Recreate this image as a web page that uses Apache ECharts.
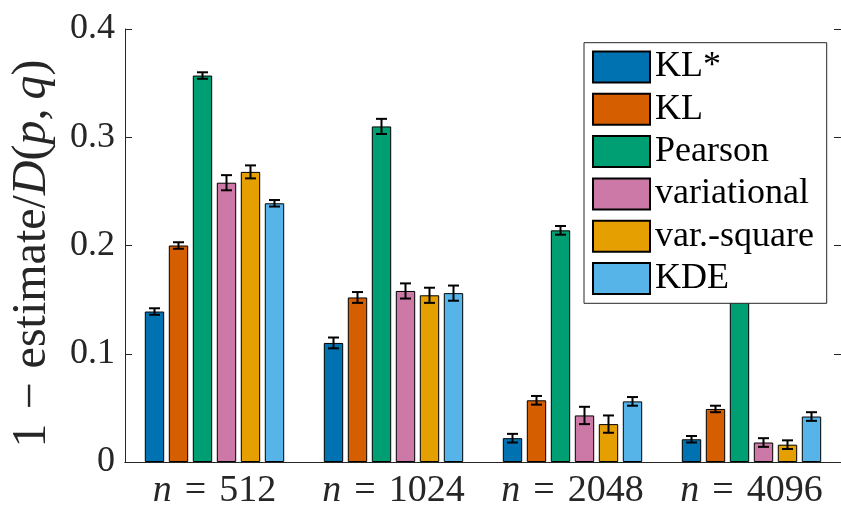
<!DOCTYPE html>
<html>
<head>
<meta charset="utf-8">
<script src="https://cdn.jsdelivr.net/npm/echarts@6/dist/echarts.min.js"></script>
<style>
  html, body { margin: 0; padding: 0; background: #fff; }
  #chart { width: 841px; height: 510px; }
</style>
</head>
<body>
<div id="chart"></div>
<script>
// Sample sizes (x categories)
const sampleSizes = ['512', '1024', '2048', '4096'];

// Estimator names (legend order)
const methods = ['KL*', 'KL', 'Pearson', 'variational', 'var.-square', 'KDE'];

// Mean relative error per estimator, one entry per sample size
const klStar      = [0.139, 0.110, 0.022, 0.021];
const kl          = [0.200, 0.152, 0.057, 0.049];
const pearson     = [0.357, 0.310, 0.214, 0.170];
const variational = [0.258, 0.158, 0.043, 0.018];
const varSquare   = [0.268, 0.154, 0.035, 0.016];
const kde         = [0.239, 0.156, 0.056, 0.042];

// Half-width of the error bars
const klStarErr      = [0.003, 0.005, 0.004, 0.003];
const klErr          = [0.003, 0.005, 0.004, 0.003];
const pearsonErr     = [0.003, 0.007, 0.004, 0.004];
const variationalErr = [0.007, 0.007, 0.008, 0.004];
const varSquareErr   = [0.006, 0.007, 0.008, 0.004];
const kdeErr         = [0.003, 0.007, 0.004, 0.004];

// Y-axis ticks
const yTicks = [0, 0.1, 0.2, 0.3, 0.4];

const means = [klStar, kl, pearson, variational, varSquare, kde];
const errs  = [klStarErr, klErr, pearsonErr, variationalErr, varSquareErr, kdeErr];
const colors = ['#0072B2', '#D55E00', '#009E73', '#CC79A7', '#E69F00', '#56B4E9'];

const FONT = 'Liberation Serif, DejaVu Serif, serif';
const AXIS_COLOR = '#262626';
const BAR_W = 19.4;
const BAR_GAP = 4.6;

const chart = echarts.init(document.getElementById('chart'), null, { renderer: 'canvas' });

const barSeries = methods.map((name, k) => ({
  name: name,
  type: 'bar',
  data: means[k],
  barWidth: BAR_W,
  barGap: (BAR_GAP / BAR_W * 100).toFixed(2) + '%',
  itemStyle: { color: colors[k], borderColor: '#000', borderWidth: 1 },
  z: 2,
  emphasis: { disabled: true }
}));

// Error bars: one custom series, positioned over each bar of the group
const errData = [];
methods.forEach((name, k) => {
  sampleSizes.forEach((s, i) => {
    errData.push([i, means[k][i], errs[k][i], k]);
  });
});

const errSeries = {
  type: 'custom',
  data: errData,
  z: 3,
  silent: true,
  encode: { x: 0, y: 1 },
  renderItem: function (params, api) {
    const i = api.value(0);
    const v = api.value(1);
    const e = api.value(2);
    const k = api.value(3);
    const n = methods.length;
    const off = (k - (n - 1) / 2) * (BAR_W + BAR_GAP);
    const top = api.coord([i, v + e]);
    const bot = api.coord([i, v - e]);
    const x = top[0] + off;
    const cap = 5.5;
    const style = { stroke: '#000', lineWidth: 2 };
    return {
      type: 'group',
      children: [
        { type: 'line', shape: { x1: x, y1: top[1], x2: x, y2: bot[1] }, style: style },
        { type: 'line', shape: { x1: x - cap, y1: top[1], x2: x + cap, y2: top[1] }, style: style },
        { type: 'line', shape: { x1: x - cap, y1: bot[1], x2: x + cap, y2: bot[1] }, style: style }
      ]
    };
  }
};

const option = {
  animation: false,
  backgroundColor: '#fff',
  grid: { left: 123, top: 29, width: 720, bottom: 48, containLabel: false },
  legend: {
    data: methods,
    orient: 'vertical',
    left: 592,
    top: 49,
    padding: 0,
    icon: 'rect',
    itemWidth: 57,
    itemHeight: 31,
    itemGap: 6.3,
    z: 11,
    selectedMode: false,
    textStyle: { fontFamily: FONT, fontSize: 36, color: '#000', padding: [0, 0, 0, 0] }
  },
  graphic: [{
    type: 'rect',
    z: 10,
    shape: { x: 584, y: 42.7, width: 242.7, height: 260.6 },
    style: { fill: '#fff', stroke: AXIS_COLOR, lineWidth: 1 }
  }],
  xAxis: [{
    type: 'category',
    data: sampleSizes,
    position: 'bottom',
    axisLine: { lineStyle: { color: AXIS_COLOR, width: 1 } },
    axisTick: { inside: true, alignWithLabel: true, length: 7, lineStyle: { color: AXIS_COLOR } },
    axisLabel: {
      interval: 0,
      margin: 10,
      color: AXIS_COLOR,
      fontFamily: FONT,
      fontSize: 38,
      formatter: v => '{i|n}{eq|=}' + v,
      rich: {
        i: { fontFamily: FONT, fontSize: 38, fontStyle: 'italic', color: AXIS_COLOR },
        eq: { fontFamily: FONT, fontSize: 38, color: AXIS_COLOR, padding: [0, 13, 0, 13] }
      }
    },
    splitLine: { show: false }
  }, {
    type: 'category',
    data: sampleSizes,
    position: 'top',
    axisLine: { lineStyle: { color: AXIS_COLOR, width: 1 } },
    axisTick: { inside: true, alignWithLabel: true, length: 7, lineStyle: { color: AXIS_COLOR } },
    axisLabel: { show: false },
    splitLine: { show: false }
  }],
  yAxis: [{
    type: 'value',
    min: yTicks[0],
    max: yTicks[yTicks.length - 1],
    interval: 0.1,
    position: 'left',
    axisLine: { show: true, lineStyle: { color: AXIS_COLOR, width: 1 } },
    axisTick: { show: true, inside: true, length: 7, lineStyle: { color: AXIS_COLOR } },
    axisLabel: { margin: 10, color: AXIS_COLOR, fontFamily: FONT, fontSize: 36 },
    splitLine: { show: false },
    name: '1{op|−}estimate/{i|D}({i|p},{sp|}{i|q}){tail|}',
    nameLocation: 'middle',
    nameRotate: 90,
    nameGap: 69,
    nameTextStyle: {
      fontFamily: FONT, fontSize: 48, color: AXIS_COLOR,
      rich: {
        i: { fontFamily: FONT, fontSize: 48, fontStyle: 'italic', color: AXIS_COLOR },
        op: { fontFamily: FONT, fontSize: 48, color: AXIS_COLOR, padding: [0, 14, 0, 14] },
        sp: { fontFamily: FONT, fontSize: 48, padding: [0, 9, 0, 0] },
        tail: { fontFamily: FONT, fontSize: 48, padding: [0, 16, 0, 0] }
      }
    }
  }, {
    type: 'value',
    min: yTicks[0],
    max: yTicks[yTicks.length - 1],
    interval: 0.1,
    position: 'right',
    axisLine: { show: true, lineStyle: { color: AXIS_COLOR, width: 1 } },
    axisTick: { show: true, inside: true, length: 7, lineStyle: { color: AXIS_COLOR } },
    axisLabel: { show: false },
    splitLine: { show: false }
  }],
  series: barSeries.concat([errSeries])
};

chart.setOption(option);
</script>
</body>
</html>
